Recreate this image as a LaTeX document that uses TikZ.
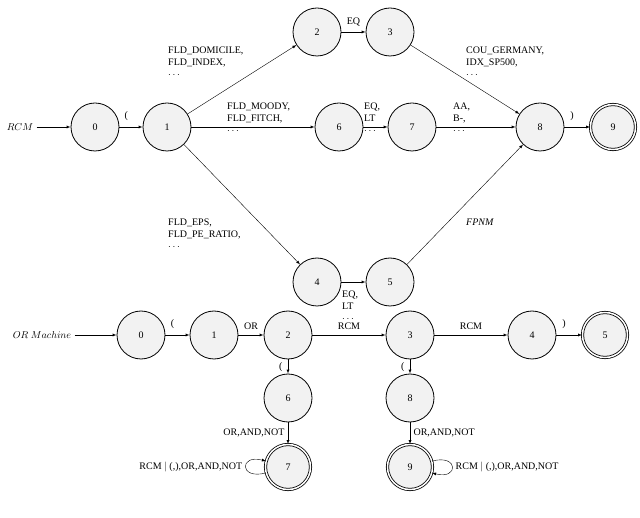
\documentclass[tikz,border=0pt]{standalone}
\usepackage{fontspec}
\setmainfont{Liberation Serif}
\usetikzlibrary{positioning}
\usetikzlibrary{calc}
\usetikzlibrary{arrows}
\tikzset{>=latex}
\tikzset{state/.style={circle, draw, thick, fill=gray!10, minimum size=48pt, inner sep=0pt, font=\normalsize}}
\tikzset{final/.style={state, double, double distance=1.5pt, minimum size=45pt}}
\tikzset{lbl/.style={align=left, font=\normalsize, inner sep=1pt}}

\begin{document}
\begin{tikzpicture}[x=1pt, y=-1pt]
    \useasboundingbox (0,0) rectangle (640,518);

    % First machine.
    \node [state] (r0) at (95,127) {0};
    \node [state] (r1) at (167,127) {1};
    \node [state] (r2) at (317,32) {2};
    \node [state] (r3) at (390,32) {3};
    \node [state] (r6) at (339,127) {6};
    \node [state] (r7) at (412,127) {7};
    \node [state] (r4) at (317,282) {4};
    \node [state] (r5) at (390,282) {5};
    \node [state] (r8) at (540,127) {8};
    \node [final] (r9) at (613,127) {9};
    \node (rstart) at (20,127) {$RCM$};

    % Edges of the first machine.
    \draw [->] (rstart) -- (r0);
    \draw [->] (r0) -- (r1) node [pos=0.3, above=3pt] {(};
    \draw [->] (r1) -- (r2);
    \draw [->] (r1) -- (r6);
    \draw [->] (r1) -- (r4);
    \draw [->] (r2) -- (r3) node [midway, above=2pt] {EQ};
    \draw [->] (r6) -- (r7);
    \draw [->] (r4) -- (r5);
    \draw [->] (r3) -- (r8);
    \draw [->] (r7) -- (r8);
    \draw [->] (r5) -- (r8);
    \draw [->] (r8) -- (r9) node [pos=0.3, above=3pt] {)};

    % Labels of the first machine.
    \node [lbl, anchor=north west] (l12) at (167,46) {FLD\_DOMICILE,\\FLD\_INDEX,\\$\cdots$};
    \node [lbl, anchor=north west] (l16) at (226,102) {FLD\_MOODY,\\FLD\_FITCH,\\$\cdots$};
    \node [lbl, anchor=north west] (l14) at (167,218) {FLD\_EPS,\\FLD\_PE\_RATIO,\\$\cdots$};
    \node [lbl, anchor=north west] (l67) at (363,102) {EQ,\\LT\\$\cdots$};
    \node [lbl, anchor=north west] (l78) at (452,102) {AA,\\B-,\\$\cdots$};
    \node [lbl, anchor=north west] (l38) at (465,46) {COU\_GERMANY,\\IDX\_SP500,\\$\cdots$};
    \node [lbl, anchor=north west] (l45) at (341,290) {EQ,\\LT\\$\cdots$};
    \node [lbl, anchor=north west] (l58) at (465,218) {\itshape FPNM};

    % Second machine.
    \node [state] (o0) at (141,335) {0};
    \node [state] (o1) at (214,335) {1};
    \node [state] (o2) at (288,335) {2};
    \node [state] (o3) at (410,335) {3};
    \node [state] (o4) at (532,335) {4};
    \node [final] (o5) at (605,335) {5};
    \node [state] (o6) at (288,398) {6};
    \node [state] (o8) at (410,398) {8};
    \node [final] (o7) at (288,467) {7};
    \node [final] (o9) at (410,467) {9};
    \node (ostart) at (42,335) {$OR\ Machine$};

    % Edges of the second machine.
    \draw [->] (ostart) -- (o0);
    \draw [->] (o0) -- (o1) node [pos=0.3, above=3pt] {(};
    \draw [->] (o1) -- (o2) node [midway, above=2pt] {OR};
    \draw [->] (o2) -- (o3) node [midway, above=2pt] {RCM};
    \draw [->] (o3) -- (o4) node [midway, above=2pt] {RCM};
    \draw [->] (o4) -- (o5) node [pos=0.3, above=3pt] {)};
    \draw [->] (o2) -- (o6) node [pos=0.55, left=2pt] {(};
    \draw [->] (o3) -- (o8) node [pos=0.55, left=2pt] {(};
    \draw [->] (o6) -- (o7) node [midway, left] {OR,AND,NOT};
    \draw [->] (o8) -- (o9) node [midway, right] {OR,AND,NOT};
    \draw [->] (o7) edge [loop left, looseness=6] node [left] {RCM $|$ (,),OR,AND,NOT} (o7);
    \draw [->] (o9) edge [loop right, looseness=6] node [right] {RCM $|$ (,),OR,AND,NOT} (o9);

\end{tikzpicture}
\end{document}
